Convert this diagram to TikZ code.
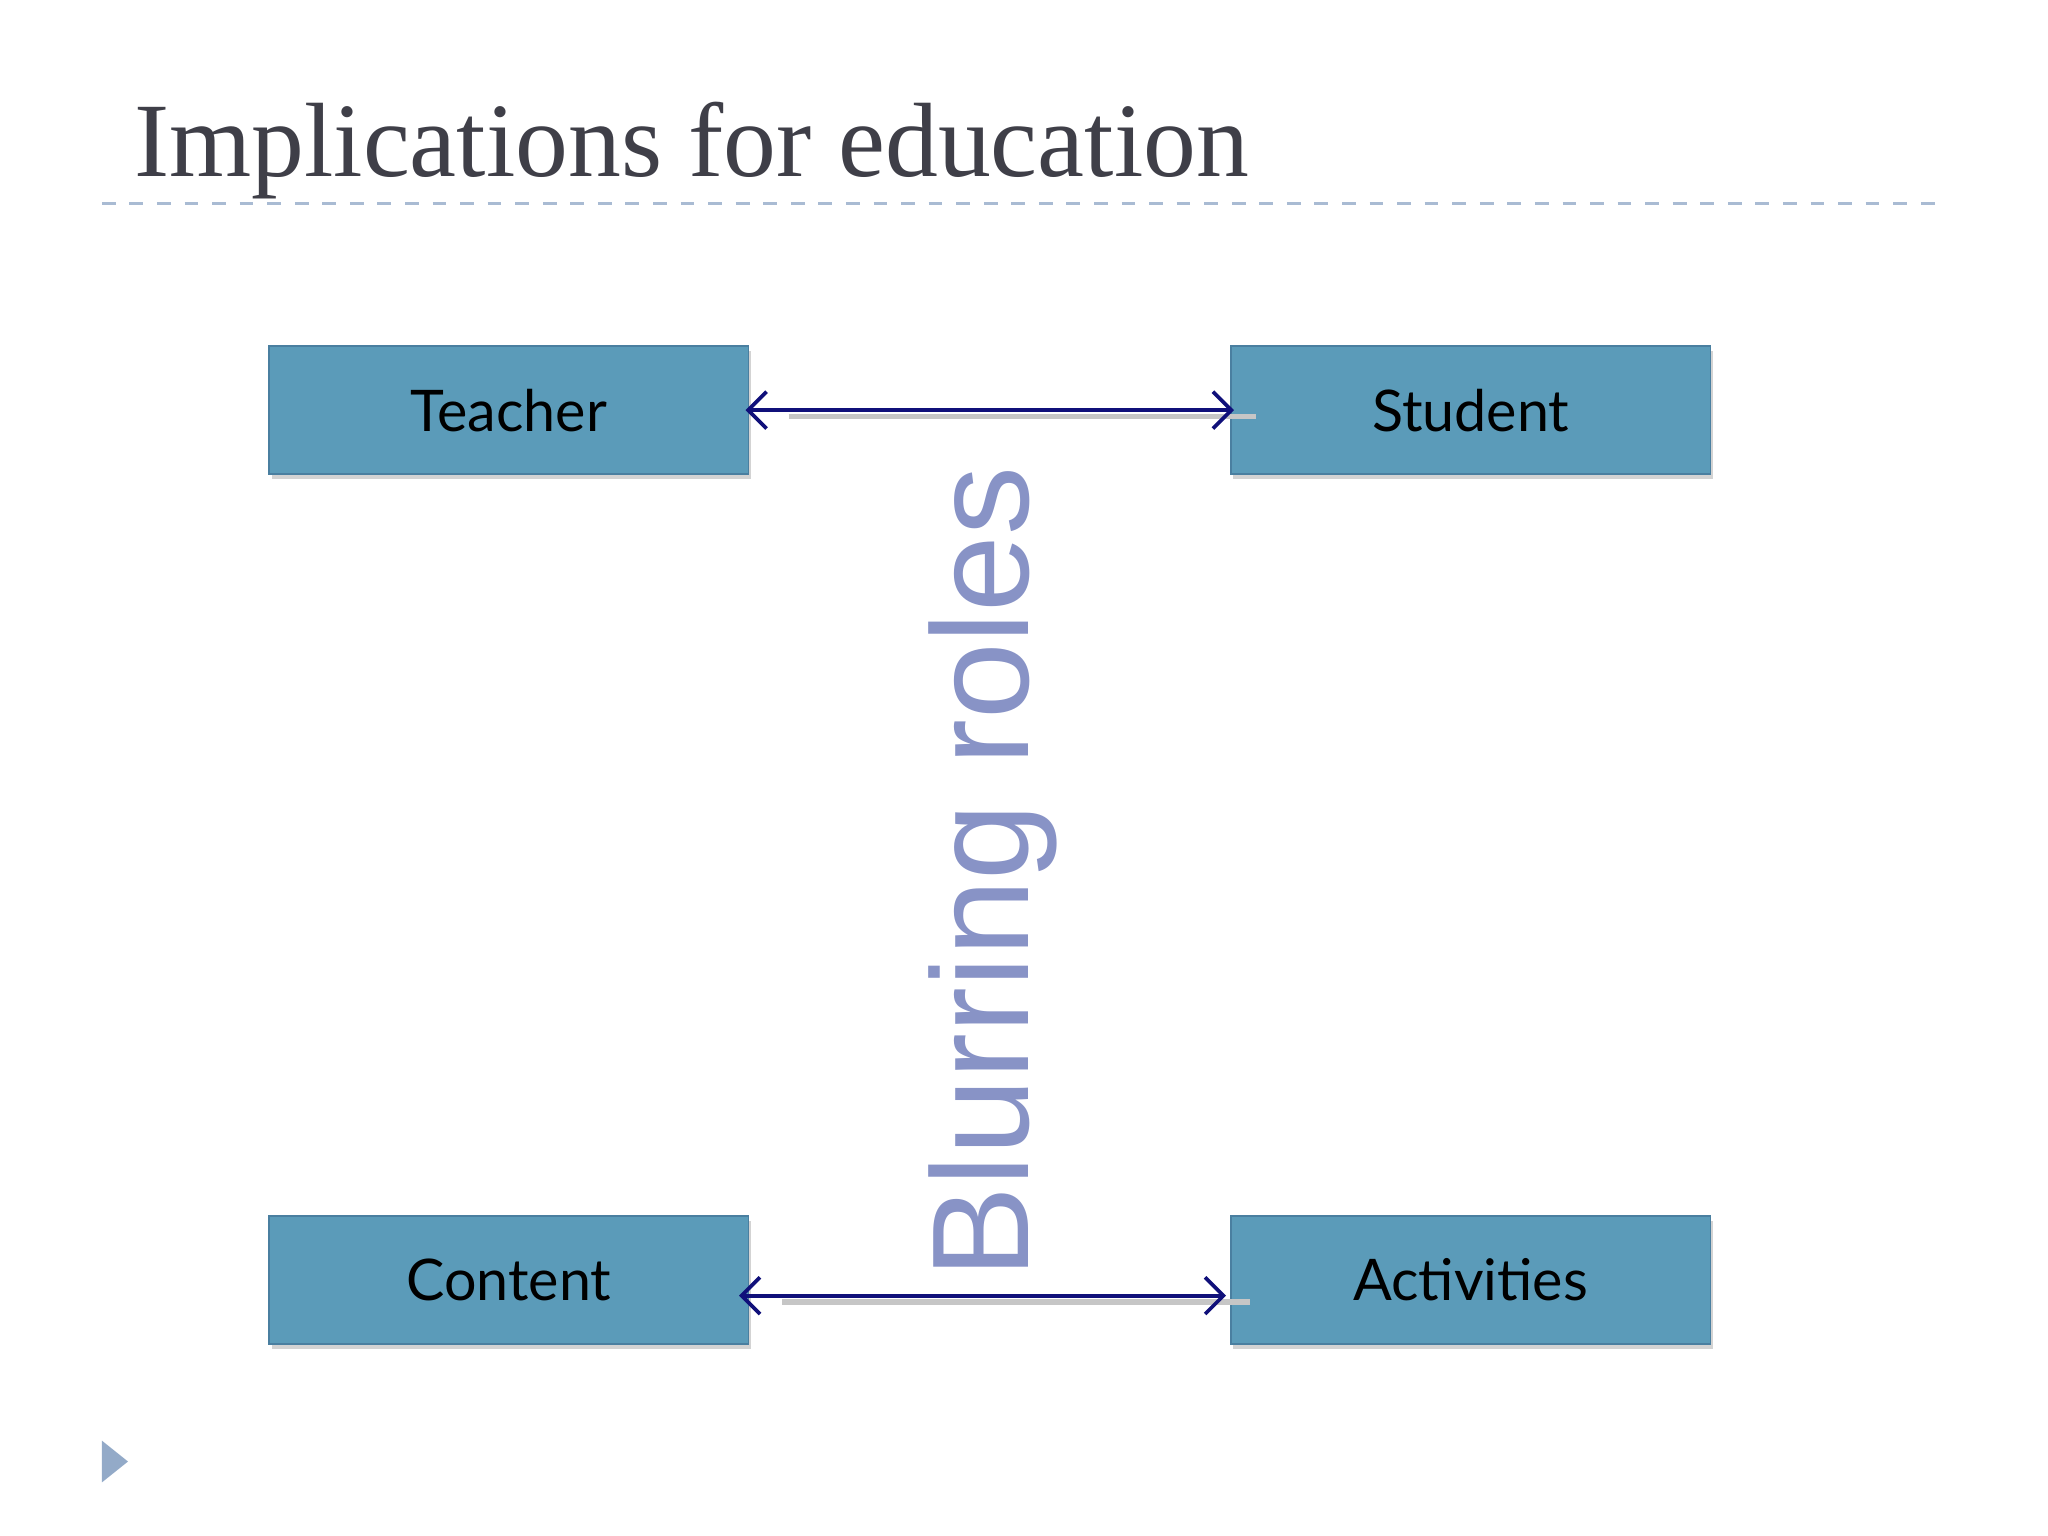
\documentclass[tikz,border=0pt]{standalone}
\usepackage{fontspec}
\setmainfont{Liberation Serif}
\newfontfamily\boxfont{Lato}
\newfontfamily\blurfont{Liberation Sans}
\usetikzlibrary{shadows,arrows.meta}
\definecolor{boxfill}{HTML}{5B9BB9}
\definecolor{boxedge}{HTML}{4A7FA0}
\definecolor{titlec}{HTML}{3F3F48}
\definecolor{navyc}{HTML}{10107A}
\definecolor{blurc}{HTML}{8893C6}
\definecolor{triac}{HTML}{93AAC8}
\begin{document}
\begin{tikzpicture}[x=0.01cm,y=-0.01cm,
  rolebox/.style={draw=boxedge,fill=boxfill,minimum width=3.67cm,minimum height=0.98cm,
    font=\boxfont\fontsize{12.5}{14}\selectfont,text=black,
    drop shadow={shadow xshift=0.02cm,shadow yshift=-0.04cm,opacity=0.35}},
  biarrow/.style={navyc,line width=0.8pt,{Straight Barb[length=4pt,width=8pt]}-{Straight Barb[length=4pt,width=8pt]}},
  shadowline/.style={gray!45,line width=1.2pt}]
\useasboundingbox (0,0) rectangle (1568,1176);
\node[anchor=base west,text=titlec,font=\fontsize{23}{26}\selectfont,inner sep=0] (title) at (102,135) {Implications for education};
\draw[triac!80,dashed,line width=0.6pt] (78,156) -- (1490,156);
\node[rolebox] (teacher) at (389.5,314) {Teacher};
\node[rolebox] (student) at (1126,314) {Student};
\node[rolebox] (content) at (389.5,980) {Content};
\node[rolebox] (activities) at (1126,980) {Activities};
\draw[shadowline] ([xshift=0.3cm,yshift=-0.05cm]teacher.east) -- ([xshift=0.2cm,yshift=-0.05cm]student.west);
\draw[biarrow] ([xshift=-0.03cm]teacher.east) -- ([xshift=0.03cm]student.west);
\draw[shadowline] ([xshift=0.25cm,yshift=-0.17cm]content.east) -- ([xshift=0.15cm,yshift=-0.17cm]activities.west);
\draw[biarrow] ([xshift=-0.08cm,yshift=-0.12cm]content.east) -- ([xshift=-0.03cm,yshift=-0.12cm]activities.west);
\node[rotate=90,text=blurc,font=\blurfont\fontsize{30}{34}\selectfont,inner sep=0] (blur) at (760,668) {Blurring roles};
\fill[triac] (78,1103) -- (98,1119) -- (78,1135) -- cycle;
\end{tikzpicture}
\end{document}
